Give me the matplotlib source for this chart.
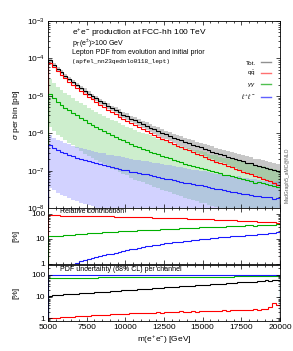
import numpy as np
import matplotlib
matplotlib.use("Agg")
import matplotlib.pyplot as plt
from matplotlib.lines import Line2D

plt.rcParams['font.family'] = ['Liberation Sans', 'DejaVu Sans']
plt.rcParams['mathtext.fontset'] = 'custom'
plt.rcParams['mathtext.rm'] = 'Liberation Sans'
plt.rcParams['mathtext.it'] = 'Liberation Sans:italic'
plt.rcParams['mathtext.sf'] = 'Liberation Sans'

# bins in m(e+e-) [GeV]
bin_lo, bin_hi, bin_w = 5000, 20000, 250

# total cross section per bin, log10(pb)
tot_log = [-4.05, -4.17, -4.28, -4.37, -4.46, -4.55, -4.63, -4.71, -4.79, -4.86,
           -4.94, -5.01, -5.07, -5.14, -5.20, -5.27, -5.33, -5.38, -5.44, -5.50,
           -5.55, -5.61, -5.66, -5.71, -5.76, -5.80, -5.85, -5.90, -5.94, -5.99,
           -6.03, -6.07, -6.12, -6.16, -6.19, -6.24, -6.27, -6.31, -6.35, -6.38,
           -6.42, -6.46, -6.49, -6.53, -6.56, -6.59, -6.63, -6.66, -6.69, -6.72,
           -6.75, -6.79, -6.81, -6.85, -6.87, -6.90, -6.93, -6.95, -6.99, -7.02]

# relative contribution per channel [%]
frac_qq = [86.8, 86.3, 85.8, 85.3, 84.8, 84.4, 83.9, 83.4, 83.0, 82.5,
           82.0, 81.5, 80.9, 80.2, 79.5, 78.8, 78.2, 77.5, 76.9, 76.2,
           75.6, 75.0, 74.3, 73.6, 73.0, 72.4, 71.7, 71.1, 70.4, 69.6,
           68.8, 68.0, 67.2, 66.4, 65.7, 64.9, 64.2, 63.5, 62.8, 62.0,
           61.3, 60.4, 59.5, 58.6, 57.8, 58.6, 56.2, 55.4, 54.5, 53.6,
           52.6, 51.7, 50.9, 52.0, 49.2, 48.3, 47.4, 46.4, 45.4, 44.2]
frac_aa = [12.5, 12.9, 13.2, 13.6, 14.0, 14.4, 14.9, 15.3, 15.7, 16.1,
           16.5, 16.8, 17.2, 17.6, 18.0, 18.4, 18.8, 19.3, 19.7, 20.2,
           20.6, 21.0, 21.4, 21.7, 22.1, 22.5, 22.9, 23.2, 23.6, 24.1,
           24.5, 24.9, 25.3, 25.7, 26.2, 26.7, 27.1, 27.6, 28.1, 28.5,
           29.0, 29.6, 30.1, 30.6, 31.1, 29.9, 31.9, 32.3, 32.7, 33.3,
           33.8, 34.4, 34.9, 33.6, 35.7, 36.1, 36.5, 37.0, 37.4, 37.8]
frac_ll = [0.53, 0.59, 0.66, 0.74, 0.83, 0.92, 1.02, 1.13, 1.26, 1.39,
           1.54, 1.70, 1.85, 2.02, 2.20, 2.40, 2.61, 2.83, 3.07, 3.33,
           3.59, 3.85, 4.13, 4.42, 4.71, 5.00, 5.30, 5.60, 5.91, 6.24,
           6.58, 6.92, 7.23, 7.53, 7.84, 8.16, 8.49, 8.84, 9.22, 9.59,
           9.94, 10.3, 10.7, 11.0, 11.4, 11.8, 12.1, 12.5, 12.8, 13.6,
           13.3, 14.3, 14.0, 14.9, 15.8, 15.2, 16.3, 17.3, 16.6, 19.5]

# PDF uncertainty (68% CL) per channel [%]
unc_tot = [11.1, 11.4, 11.7, 12.1, 12.4, 12.8, 13.2, 13.5, 13.9, 14.3,
           14.8, 15.2, 15.6, 16.1, 16.6, 17.0, 17.5, 18.0, 18.6, 19.1,
           19.7, 20.2, 20.8, 21.4, 22.1, 22.7, 23.4, 24.1, 24.8, 25.5,
           26.2, 27.0, 27.8, 28.6, 29.4, 30.3, 31.2, 32.1, 33.0, 34.0,
           35.0, 36.0, 37.0, 38.1, 39.2, 37.8, 41.5, 42.8, 44.0, 45.3,
           46.6, 48.0, 49.4, 47.6, 52.3, 53.8, 55.4, 54.0, 58.7, 60.4]
unc_qq = [1.00, 1.03, 1.06, 1.09, 1.12, 1.15, 1.18, 1.21, 1.24, 1.27,
          1.30, 1.33, 1.36, 1.39, 1.42, 1.45, 1.48, 1.52, 1.55, 1.58,
          1.60, 1.63, 1.66, 1.70, 1.72, 1.76, 1.72, 1.80, 1.85, 1.78,
          1.88, 1.92, 1.86, 1.95, 2.02, 1.92, 2.00, 2.08, 1.98, 2.12,
          2.06, 2.18, 2.10, 2.22, 2.15, 2.28, 2.20, 2.32, 2.26, 2.40,
          2.30, 2.45, 2.38, 2.52, 2.42, 2.60, 2.70, 3.10, 4.90, 4.10]
unc_aa = [73.0, 73.3, 73.5, 73.8, 74.0, 74.3, 74.5, 74.8, 75.0, 75.3,
          75.5, 75.8, 76.0, 76.3, 76.5, 76.8, 77.0, 77.3, 77.5, 77.8,
          78.0, 78.3, 78.5, 78.8, 79.0, 79.3, 79.5, 79.8, 80.0, 80.3,
          80.5, 80.8, 81.0, 81.3, 81.5, 81.8, 82.0, 82.3, 82.5, 82.8,
          83.0, 83.3, 83.5, 83.8, 84.0, 84.3, 84.5, 84.8, 85.0, 85.3,
          85.5, 85.8, 86.0, 86.3, 86.5, 86.8, 87.0, 87.3, 87.5, 87.8]
unc_ll = [97.0, 97.1, 97.2, 97.3, 97.4, 97.5, 97.6, 97.7, 97.8, 97.9,
          98.0, 98.0, 98.1, 98.2, 98.3, 98.3, 98.4, 98.5, 98.5, 98.6,
          98.7, 98.7, 98.8, 98.8, 98.9, 98.9, 99.0, 99.0, 99.1, 99.1,
          99.2, 99.2, 99.2, 99.3, 99.3, 99.3, 99.4, 99.4, 99.4, 99.5,
          99.5, 99.5, 99.5, 99.6, 99.6, 99.6, 99.6, 99.7, 99.7, 99.7,
          99.7, 99.7, 99.8, 99.8, 99.8, 99.8, 99.8, 99.8, 99.9, 99.9]

# band edges of the photon and lepton channels, in decades above/below central
aa_up = [0.39, 0.39, 0.39, 0.40, 0.39, 0.40, 0.40, 0.39, 0.40, 0.40,
         0.40, 0.41, 0.40, 0.41, 0.41, 0.40, 0.41, 0.41, 0.41, 0.42,
         0.41, 0.42, 0.42, 0.41, 0.42, 0.42, 0.43, 0.42, 0.42, 0.43,
         0.43, 0.42, 0.43, 0.44, 0.43, 0.43, 0.44, 0.43, 0.44, 0.44,
         0.45, 0.44, 0.43, 0.45, 0.44, 0.46, 0.44, 0.45, 0.45, 0.46,
         0.44, 0.46, 0.45, 0.47, 0.45, 0.46, 0.47, 0.45, 0.47, 0.46]
aa_dn = [0.87, 0.87, 0.88, 0.87, 0.88, 0.88, 0.87, 0.88, 0.88, 0.89,
         0.88, 0.89, 0.89, 0.88, 0.89, 0.90, 0.89, 0.89, 0.90, 0.90,
         0.89, 0.90, 0.91, 0.90, 0.90, 0.91, 0.90, 0.91, 0.91, 0.92,
         0.91, 0.91, 0.92, 0.91, 0.92, 0.92, 0.93, 0.92, 0.92, 0.93,
         0.92, 0.93, 0.94, 0.92, 0.93, 0.94, 0.93, 0.94, 0.95, 0.93,
         0.94, 0.95, 0.94, 0.96, 0.94, 0.95, 0.96, 0.95, 0.96, 0.95]
ll_up = [0.27, 0.27, 0.28, 0.28, 0.28, 0.29, 0.29, 0.29, 0.30, 0.30,
         0.30, 0.31, 0.31, 0.31, 0.32, 0.32, 0.32, 0.33, 0.33, 0.33,
         0.34, 0.34, 0.34, 0.35, 0.35, 0.35, 0.36, 0.36, 0.36, 0.37,
         0.37, 0.37, 0.38, 0.38, 0.38, 0.39, 0.39, 0.39, 0.40, 0.40,
         0.40, 0.41, 0.40, 0.41, 0.42, 0.41, 0.42, 0.43, 0.42, 0.43,
         0.44, 0.43, 0.44, 0.45, 0.43, 0.45, 0.46, 0.44, 0.46, 0.45]
ll_dn = [1.13, 1.13, 1.14, 1.14, 1.15, 1.15, 1.16, 1.16, 1.17, 1.17,
         1.18, 1.18, 1.19, 1.19, 1.20, 1.20, 1.21, 1.21, 1.22, 1.22,
         1.23, 1.23, 1.24, 1.24, 1.25, 1.25, 1.26, 1.26, 1.27, 1.27,
         1.28, 1.28, 1.29, 1.29, 1.30, 1.30, 1.31, 1.31, 1.32, 1.32,
         1.33, 1.33, 1.34, 1.34, 1.35, 1.35, 1.36, 1.36, 1.37, 1.37,
         1.38, 1.38, 1.39, 1.39, 1.40, 1.40, 1.41, 1.41, 1.42, 1.42]

labels = ['Tot.', r'q$\bar{\rm q}$', r'$\gamma\gamma$', r'$\ell^+\ell^-$']
colors = ['black', '#ff0000', '#00b000', '#1a1aff']
band_colors = ['#909090', '#ff8080', '#70d070', '#8080ff']
band_alpha = [0.5, 0.35, 0.35, 0.35]
legend_colors = ['#909090', '#ff7070', '#50c050', '#6060ff']

edges = np.arange(bin_lo, bin_hi + 1, bin_w)
tot = 10 ** np.array(tot_log)
qq = tot * np.array(frac_qq) / 100
aa = tot * np.array(frac_aa) / 100
ll = tot * np.array(frac_ll) / 100
central = [tot, qq, aa, ll]

bands = [
    (tot * (1 - np.array(unc_tot) / 100), tot * (1 + np.array(unc_tot) / 100)),
    (qq * (1 - np.array(unc_qq) / 100), qq * (1 + np.array(unc_qq) / 100)),
    (aa / 10 ** np.array(aa_dn), aa * 10 ** np.array(aa_up)),
    (ll / 10 ** np.array(ll_dn), ll * 10 ** np.array(ll_up)),
]

W, H = 293, 351
fig = plt.figure(figsize=(W / 100, H / 100), dpi=100)
ax1 = fig.add_axes([48 / W, 1 - 208 / H, 232 / W, 187 / H])
ax2 = fig.add_axes([48 / W, 1 - 264 / H, 232 / W, 56 / H], sharex=ax1)
ax3 = fig.add_axes([48 / W, 1 - 321 / H, 232 / W, 56 / H], sharex=ax1)

for ax in (ax1, ax2, ax3):
    ax.set_yscale('log')
    ax.tick_params(which='both', direction='in', top=True, right=True,
                   labelsize=6, width=0.5, pad=2)
    ax.tick_params(which='major', length=3)
    ax.tick_params(which='minor', length=1.5)
    for s in ax.spines.values():
        s.set_linewidth(0.6)

# main panel
for (lo, hi), bc, ba in zip(bands, band_colors, band_alpha):
    lo = np.clip(lo, 1e-12, None)
    ax1.bar(edges[:-1], hi - lo, bottom=lo, width=bin_w, align='edge',
            color=bc, alpha=ba, linewidth=0)
for y, c in zip(central, colors):
    ax1.stairs(y, edges, color=c, lw=0.8, baseline=1e-12)
ax1.set_xlim(bin_lo, bin_hi)
ax1.set_ylim(1e-8, 1e-3)
ax1.set_ylabel(r'$\sigma$ per bin [pb]', fontsize=6, labelpad=4)
plt.setp(ax1.get_xticklabels(), visible=False)

handles = [Line2D([], [], color=c, lw=1.0) for c in legend_colors]
ax1.legend(handles, labels, loc='upper right', bbox_to_anchor=(0.985, 0.82),
           frameon=False, markerfirst=False, fontsize=4.5, handlelength=1.6,
           handletextpad=0.8, labelspacing=0.5)

fig.text(72 / W, 1 - 33 / H, r'e$^{+}$e$^{-}$ production at FCC-hh 100 TeV',
         fontsize=6, va='center')
fig.text(72 / W, 1 - 44 / H, r'p$_{T}$(e$^{\pm}$)>100 GeV', fontsize=5, va='center')
fig.text(72 / W, 1 - 53 / H, 'Lepton PDF from evolution and initial prior',
         fontsize=5, va='center')
fig.text(72 / W, 1 - 62 / H, '(apfel_nn23qednlo0118_lept)', fontsize=4.4,
         va='center', family='Liberation Mono')
fig.text(287 / W, 1 - 175 / H, 'MadGraph5_aMC@NLO', rotation=90, fontsize=3.6,
         color='#555555', va='center', ha='center')

# relative contribution panel
for y, c in zip(central[1:], colors[1:]):
    ax2.stairs(y / tot * 100, edges, color=c, lw=0.8, baseline=1e-6)
ax2.set_ylim(1, 170)
ax2.set_yticks([1, 10, 100])
ax2.set_yticklabels(['1', '10', '100'])
ax2.set_ylabel('[%]', fontsize=6, labelpad=8)
ax2.text(0.05, 0.995, 'Relative contribution', transform=ax2.transAxes,
         fontsize=5, va='top')
plt.setp(ax2.get_xticklabels(), visible=False)

# PDF uncertainty panel
for u, c in zip([unc_tot, unc_qq, unc_aa, unc_ll], colors):
    ax3.stairs(u, edges, color=c, lw=0.8, baseline=1e-6)
ax3.set_ylim(0.73, 290)
ax3.set_yticks([1, 10, 100])
ax3.set_yticklabels(['1', '10', '100'])
ax3.set_ylabel('[%]', fontsize=6, labelpad=8)
ax3.text(0.05, 0.99, 'PDF uncertainty (68% CL) per channel',
         transform=ax3.transAxes, fontsize=5, va='top')
ax3.set_xticks([5000, 7500, 10000, 12500, 15000, 17500, 20000])
ax3.set_xticks(np.arange(bin_lo, bin_hi + 1, 500), minor=True)
ax3.set_xlabel(r'm(e$^{+}$e$^{-}$) [GeV]', fontsize=6, labelpad=2)

fig.savefig('out.png', dpi=100)
